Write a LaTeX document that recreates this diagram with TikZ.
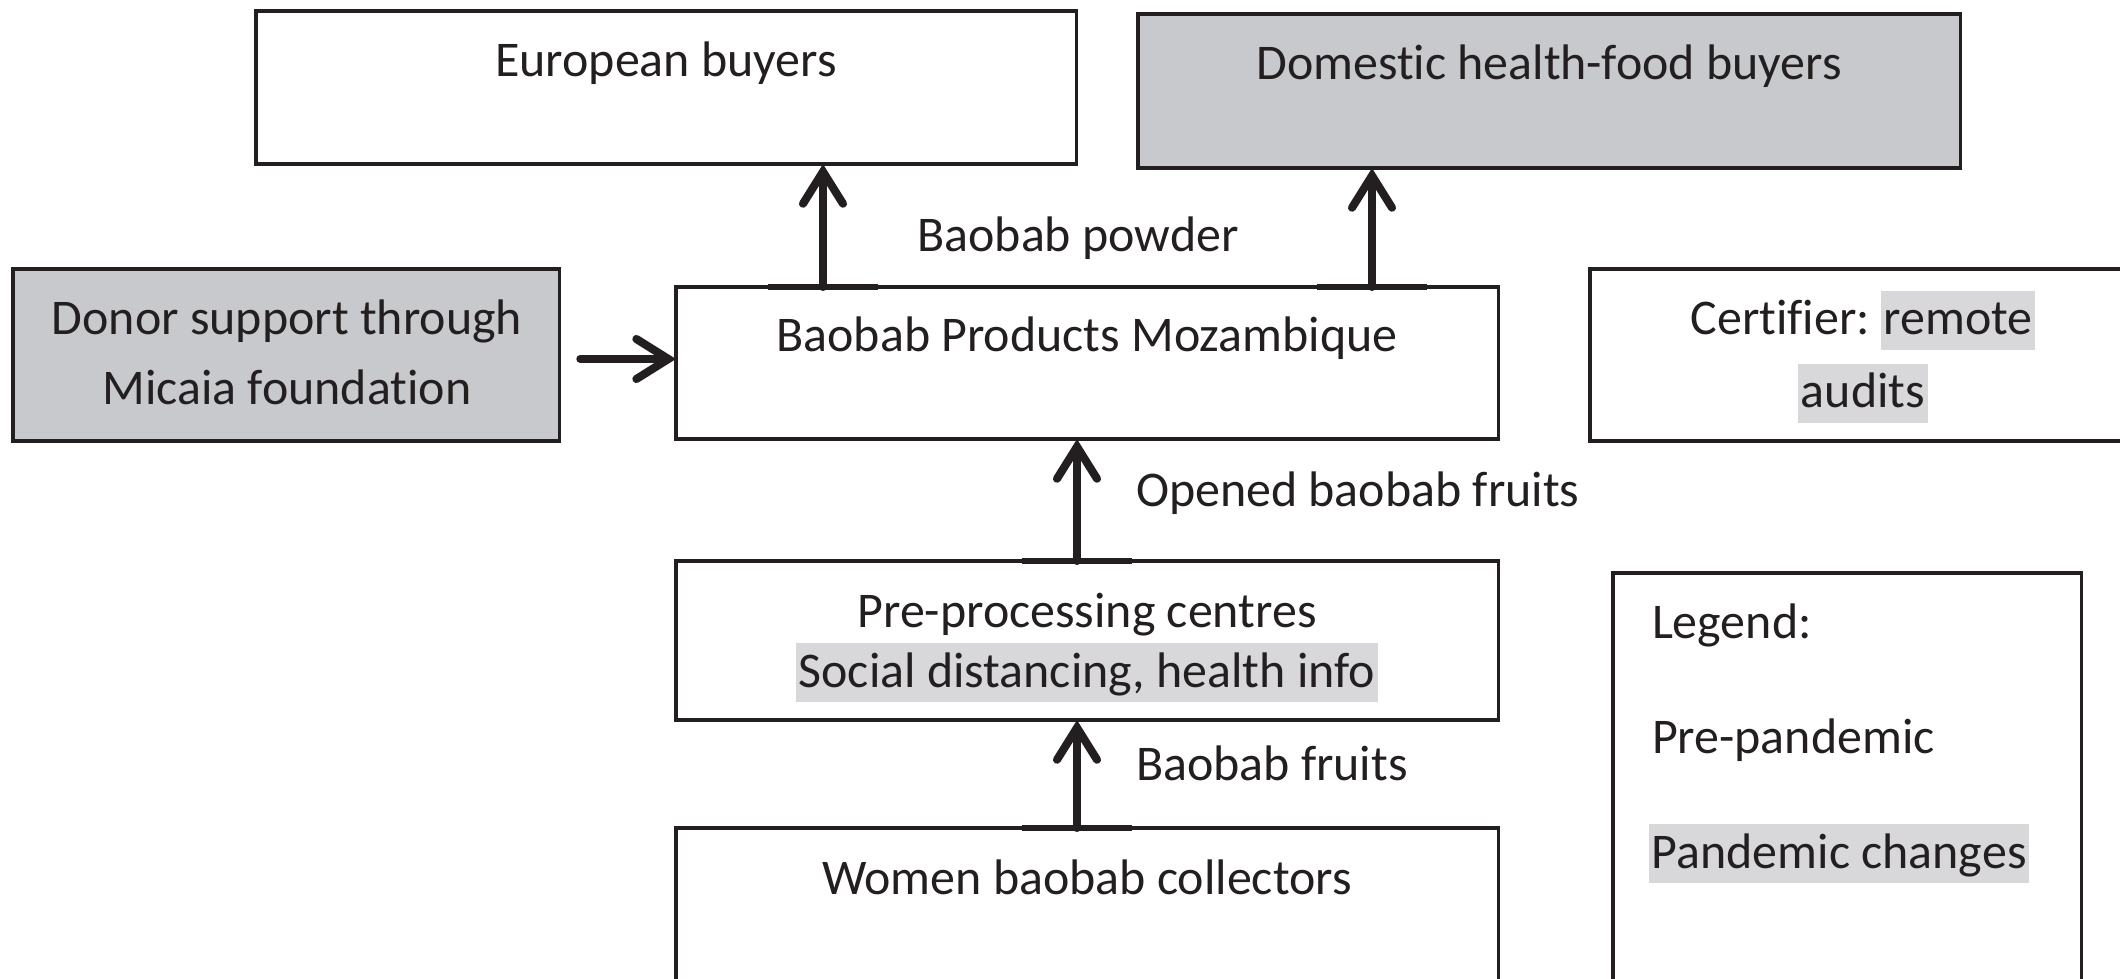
\documentclass[tikz,border=0pt]{standalone}
\usepackage{fontspec}
\setmainfont{Carlito}
\usetikzlibrary{arrows.meta}
\definecolor{ink}{RGB}{35,31,32}
\definecolor{boxgray}{RGB}{200,201,204}
\definecolor{hlgray}{RGB}{216,216,218}
\newcommand\nolig{\kern0pt\relax}
\newcommand\hlt[1]{{\setlength{\fboxsep}{0pt}\colorbox{hlgray}{\rule[-4.4pt]{0pt}{17pt}\kern0.8pt#1\kern0.8pt}}}
\tikzset{
  box/.style={draw=ink, line width=1pt, anchor=north west, inner sep=0pt, outer sep=0pt},
  graybox/.style={box, fill=boxgray},
  txt/.style={anchor=base, inner sep=0pt, outer sep=0pt, text=ink, font=\fontsize{14.2}{17}\selectfont},
  ltxt/.style={txt, anchor=base west},
  flow/.style={draw=ink, line width=2.3pt, line cap=round, -{Straight Barb[length=3.2mm,width=4mm,line cap=round]}},
  tailbar/.style={draw=ink, line width=1.6pt},
}
\begin{document}
\begin{tikzpicture}[x=0.01cm,y=-0.01cm]
\useasboundingbox[fill=white] (0,0) rectangle (2120,979);
% boxes
\node[box, minimum width=8.20cm, minimum height=1.53cm] (eu) at (256,11) {};
\node[graybox, minimum width=8.22cm, minimum height=1.54cm] (dom) at (1138,14) {};
\node[graybox, minimum width=5.46cm, minimum height=1.72cm] (donor) at (13,269) {};
\node[box, minimum width=8.22cm, minimum height=1.52cm] (bpm) at (676,287) {};
\node[box, minimum width=6.00cm, minimum height=1.72cm] (cert) at (1590,269) {};
\node[box, minimum width=8.22cm, minimum height=1.59cm] (pre) at (676,561) {};
\node[box, minimum width=8.22cm, minimum height=2.00cm] (women) at (676,828) {};
\node[box, minimum width=4.68cm, minimum height=5.00cm] (leg) at (1613,573) {};
% texts
\node[txt] (eut) at (666,77) {European buyers};
\node[txt] (domt) at (1549,80) {Domest\nolig ic health-food buyers};
\node[txt] (donort1) at (287,335) {Donor support through};
\node[txt] (donort2) at (287,405) {Micaia foundat\nolig ion};
\node[txt] (bpmt) at (1087,352) {Baobab Products Mozambique};
\node[txt] (certt1) at (1863,335) {Cert\nolig if\nolig ier:\hspace{0.22em}\hlt{remote}};
\node[txt] (certt2) at (1863,408) {\hlt{audits}};
\node[txt] (pret1) at (1087,627) {Pre-processing centres};
\node[txt] (pret2) at (1087,687) {\hlt{Social distancing, health info}};
\node[txt] (womt) at (1087,894) {Women baobab collectors};
\node[ltxt] (leg1) at (1652,638) {Legend:};
\node[ltxt] (leg2) at (1652,753) {Pre-pandemic};
\node[ltxt] (leg3) at (1649,868) {\hlt{Pandemic changes}};
% flow labels
\node[txt] (lpowder) at (1078,252) {Baobab powder};
\node[ltxt] (lopened) at (1136,506) {Opened baobab fruits};
\node[ltxt] (lfruits) at (1136,780) {Baobab fruits};
% connectors
\coordinate (c1) at (823,0);
\coordinate (c2) at (1372,0);
\coordinate (c3) at (1077,0);
\coordinate (c5) at (0,359);
\draw[tailbar] ([xshift=-0.55cm]c1 |- bpm.north) -- ([xshift=0.55cm]c1 |- bpm.north);
\draw[tailbar] ([xshift=-0.55cm]c2 |- bpm.north) -- ([xshift=0.55cm]c2 |- bpm.north);
\draw[tailbar] ([xshift=-0.55cm]c3 |- pre.north) -- ([xshift=0.55cm]c3 |- pre.north);
\draw[tailbar] ([xshift=-0.55cm]c3 |- women.north) -- ([xshift=0.55cm]c3 |- women.north);
\draw[flow] (c1 |- bpm.north) -- (c1 |- eu.south);
\draw[flow] (c2 |- bpm.north) -- (c2 |- dom.south);
\draw[flow] (c3 |- pre.north) -- (c3 |- bpm.south);
\draw[flow] (c3 |- women.north) -- (c3 |- pre.south);
\draw[flow] ([xshift=0.21cm]donor.east |- c5) -- (bpm.west |- c5);
\end{tikzpicture}
\end{document}
